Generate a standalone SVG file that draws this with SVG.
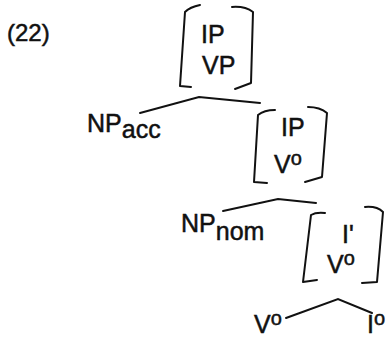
<svg xmlns="http://www.w3.org/2000/svg" width="389" height="339" viewBox="0 0 389 339">
<style>
text{font-family:"Liberation Sans",Arial,sans-serif;font-size:25px;fill:#111;stroke:#111;stroke-width:0.5}
.num{font-size:24px}
.sup{font-size:20px}
.br{fill:none;stroke:#111;stroke-width:2;stroke-linecap:round;stroke-linejoin:round}
.ln{stroke:#111;stroke-width:2;stroke-linecap:round;fill:none}
</style>
<rect width="389" height="339" fill="#fff"/>
<text class="num" x="7" y="41">(22)</text>
<g id="node-top">
<path class="br" d="M200,5 Q190,7 185,12 L180,86 L191,87"/>
<path class="br" d="M232,7 Q245,6 253,12 L251,83 L235,89"/>
<text x="201" y="43">IP</text>
<text x="202" y="74">VP</text>
</g>
<g id="node-npacc">
<text x="87" y="132">NP<tspan dy="6">acc</tspan></text>
</g>
<g id="node-mid">
<path class="br" d="M275,110 Q264,110 258,115 L254,182 L267,183"/>
<path class="br" d="M308,107 Q320,107 327,113 L322,177 L305,182"/>
<text x="281" y="136">IP</text>
<text x="274" y="173">V<tspan class="sup" dy="-8">o</tspan></text>
</g>
<g id="node-npnom">
<text x="181" y="232">NP<tspan dy="8">nom</tspan></text>
</g>
<g id="node-low">
<path class="br" d="M325,213 Q316,212 311,215 L303,282 L317,280"/>
<path class="br" d="M365,207 Q377,206 383,212 L377,282 L362,283"/>
<text x="342" y="243">I'</text>
<text x="327" y="273">V<tspan class="sup" dy="-8">o</tspan></text>
</g>
<g id="node-v0">
<text x="254" y="333">V<tspan class="sup" dy="-8">o</tspan></text>
</g>
<g id="node-i0">
<text x="367" y="333">I<tspan class="sup" dy="-8">o</tspan></text>
</g>
<g id="connectors">
<polyline class="ln" points="140,113 199,97 260,103"/>
<polyline class="ln" points="223,211 278,199 316,203"/>
<polyline class="ln" points="286,318 338,299 372,313"/>
</g>
</svg>
